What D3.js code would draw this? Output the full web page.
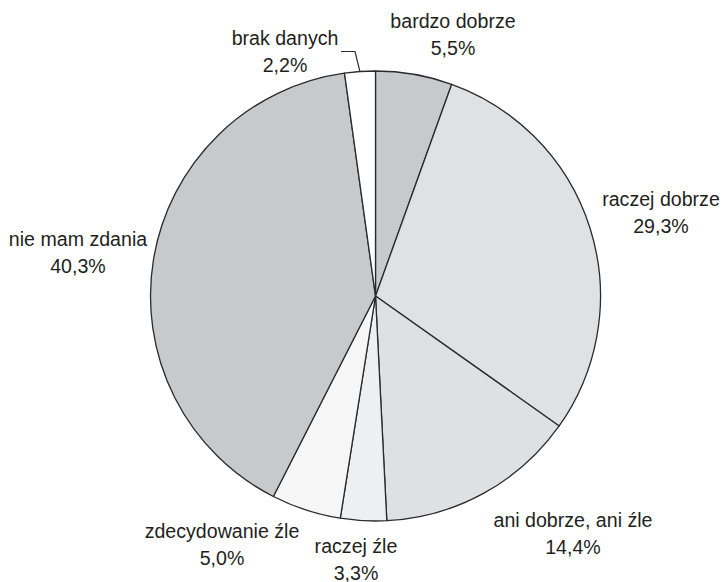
<!DOCTYPE html>
<html>
<head>
<meta charset="utf-8">
<script src="https://cdn.jsdelivr.net/npm/d3@7"></script>
<style>
  html, body { margin: 0; padding: 0; background: #fff; }
  svg { display: block; }
  text { font-family: "Liberation Sans", Arial, sans-serif; fill: #231f20; }
</style>
</head>
<body>
<svg id="chart" width="722" height="582"></svg>
<script>
const categories = ["bardzo dobrze", "raczej dobrze", "ani dobrze, ani źle", "raczej źle", "zdecydowanie źle", "nie mam zdania", "brak danych"];
const values = [5.5, 29.3, 14.4, 3.3, 5.0, 40.3, 2.2];
const valueLabels = ["5,5%", "29,3%", "14,4%", "3,3%", "5,0%", "40,3%", "2,2%"];
const colors = ["#c8c9cb", "#e0e1e3", "#dfe0e2", "#eeeff1", "#f6f6f7", "#c8c9cb", "#ffffff"];
// label anchor positions (centre x, first-line baseline y)
const labelPos = [[453, 28], [661, 206], [573, 527], [356, 553], [222, 538], [78, 246], [285, 45]];

const svg = d3.select("#chart");
const cx = 375.5, cy = 296, r = 225;
const g = svg.append("g").attr("transform", `translate(${cx},${cy})`);

const data = categories.map((c, i) => ({ name: c, value: values[i], label: valueLabels[i], color: colors[i], pos: labelPos[i] }));
const pie = d3.pie().value(d => d.value).sort(null).startAngle(0).endAngle(2 * Math.PI);
const arc = d3.arc().innerRadius(0).outerRadius(r);
const arcs = pie(data);

g.selectAll("path.slice")
  .data(arcs)
  .enter().append("path")
  .attr("class", "slice")
  .attr("d", arc)
  .attr("fill", d => d.data.color)
  .attr("stroke", "#2b2b2b")
  .attr("stroke-width", 1.3)
  .attr("stroke-linejoin", "round");

// leader line for "brak danych"
const last = arcs[arcs.length - 1];
const mid = (last.startAngle + last.endAngle) / 2;
const ex = cx + r * Math.sin(mid), ey = cy - r * Math.cos(mid);
svg.append("polyline")
  .attr("points", `341,51.5 355,51.5 ${ex},${ey}`)
  .attr("fill", "none")
  .attr("stroke", "#2b2b2b")
  .attr("stroke-width", 1.2);

const lab = svg.selectAll("g.lab").data(arcs).enter().append("g").attr("class", "lab");
lab.append("text")
  .attr("x", d => d.data.pos[0])
  .attr("y", d => d.data.pos[1])
  .attr("text-anchor", "middle")
  .attr("font-size", 19.6)
  .text(d => d.data.name);
lab.append("text")
  .attr("x", d => d.data.pos[0])
  .attr("y", d => d.data.pos[1] + 26.5)
  .attr("text-anchor", "middle")
  .attr("font-size", 19.6)
  .text(d => d.data.label);
</script>
</body>
</html>
